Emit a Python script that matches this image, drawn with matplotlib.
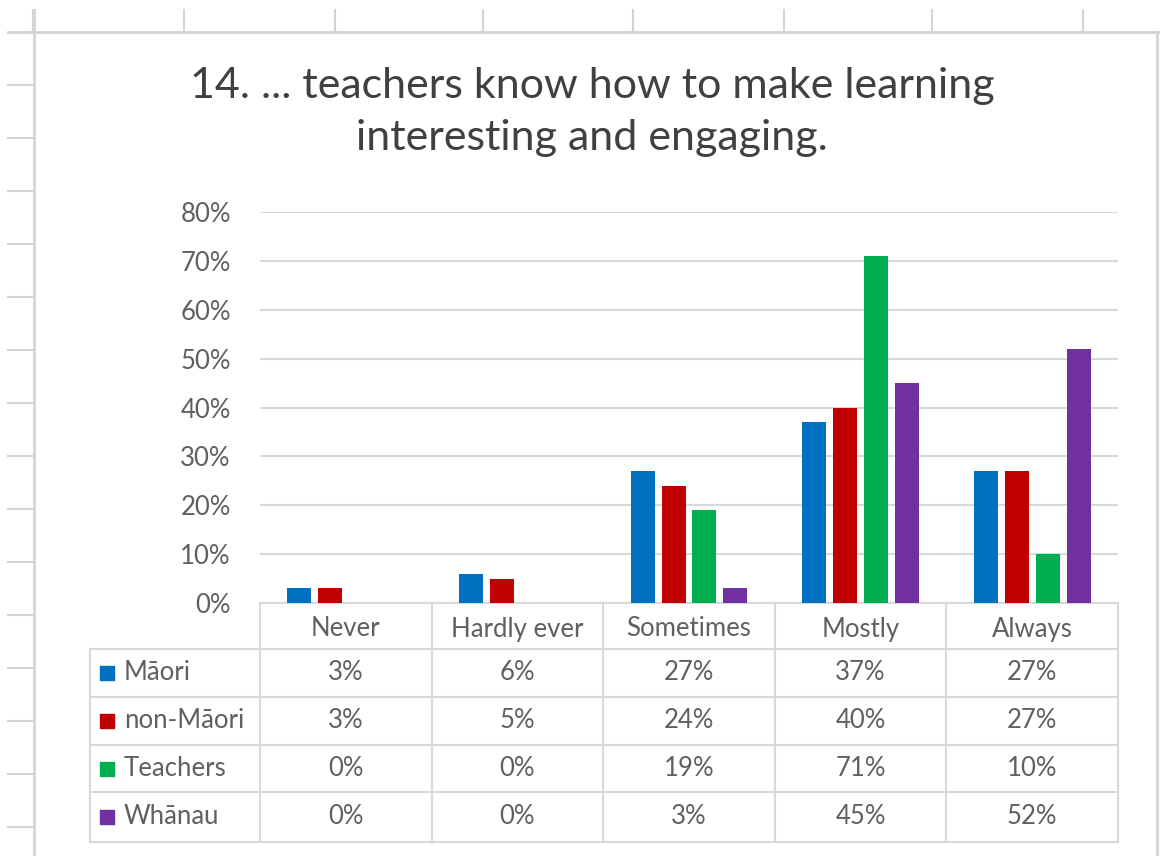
import numpy as np
import matplotlib.pyplot as plt

# data
categories = ['Never', 'Hardly ever', 'Sometimes', 'Mostly', 'Always']
groups = ['Māori', 'non-Māori', 'Teachers', 'Whānau']
maori = [3, 6, 27, 37, 27]
non_maori = [3, 5, 24, 40, 27]
teachers = [0, 0, 19, 71, 10]
whanau = [0, 0, 3, 45, 52]
yticks = [0, 10, 20, 30, 40, 50, 60, 70, 80]
title = '14. ... teachers know how to make learning\ninteresting and engaging.'

series = [maori, non_maori, teachers, whanau]
colors = ['#0070C0', '#C00000', '#00B050', '#7030A0']
font = ['Lato', 'DejaVu Sans']
text_col = '#606060'
line_col = '#d9d9d9'
fs = 18.5

W, H = 1160, 856
fig = plt.figure(figsize=(W / 100, H / 100), dpi=100)
fig.patch.set_facecolor('white')

# background overlay in pixel coordinates (spreadsheet lines + table)
bg = fig.add_axes([0, 0, 1, 1])
bg.set_xlim(0, W)
bg.set_ylim(H, 0)
bg.axis('off')

# spreadsheet grid bits around the chart
sheet_col = '#d4d4d4'
bg.plot([8, W], [32, 32], color=sheet_col, lw=2)
for x in [33, 184, 335, 483, 633, 784, 932, 1083]:
    bg.plot([x, x], [10, 32], color=sheet_col, lw=1.5)
bg.plot([34, 34], [10, H], color=sheet_col, lw=2)
bg.plot([1157, 1157], [32, H], color=sheet_col, lw=2)
for y in range(85, H, 53):
    bg.plot([8, 34], [y, y], color=sheet_col, lw=1.5)

# main plot area
left, right, bottom, top = 260, 1118, 603, 212
ax = fig.add_axes([left / W, 1 - bottom / H, (right - left) / W, (bottom - top) / H])
ax.set_facecolor('none')

x = np.arange(len(categories))
width = 0.14
offsets = [-0.27, -0.09, 0.09, 0.27]
for vals, col, off in zip(series, colors, offsets):
    ax.bar(x + off, vals, width=width, color=col, zorder=3)

ax.set_xlim(-0.5, len(categories) - 0.5)
ax.set_ylim(0, 80)
ax.set_yticks(yticks)
ax.set_yticklabels([f'{t}%' for t in yticks], fontsize=fs, color=text_col, family=font)
ax.tick_params(axis='y', length=0, pad=21)
ax.set_xticks([])
ax.grid(axis='y', color=line_col, lw=1.5, zorder=0)
for s in ax.spines.values():
    s.set_visible(False)

# data table under the plot
col_w = (right - left) / len(categories)
col_edges = [left + i * col_w for i in range(len(categories) + 1)]
row_edges = [603, 649, 697, 745, 792, 842]
label_left = 90

# header row (only over the category columns)
bg.plot([left, right], [row_edges[0], row_edges[0]], color=line_col, lw=1.5)
for ye in row_edges[1:]:
    bg.plot([label_left, right], [ye, ye], color=line_col, lw=1.5)
for xe in col_edges:
    bg.plot([xe, xe], [row_edges[0], row_edges[-1]], color=line_col, lw=1.5)
bg.plot([label_left, label_left], [row_edges[1], row_edges[-1]], color=line_col, lw=1.5)

for i, cat in enumerate(categories):
    cx = (col_edges[i] + col_edges[i + 1]) / 2
    bg.text(cx, (row_edges[0] + row_edges[1]) / 2 + 3, cat, ha='center', va='center',
            fontsize=fs, color=text_col, family=font)

for r, (name, vals, col) in enumerate(zip(groups, series, colors)):
    cy = (row_edges[r + 1] + row_edges[r + 2]) / 2
    bg.scatter([107], [cy], marker='s', s=95, color=col, zorder=4)
    bg.text(124, cy, name, ha='left', va='center', fontsize=fs, color=text_col, family=font)
    for i, v in enumerate(vals):
        cx = (col_edges[i] + col_edges[i + 1]) / 2
        bg.text(cx, cy, f'{v}%', ha='center', va='center', fontsize=fs,
                color=text_col, family=font)

bg.text(592, 112, title, ha='center', va='center', fontsize=31, color='#404040',
        family=font, linespacing=1.42)

fig.savefig('out.png', dpi=100, facecolor='white')
